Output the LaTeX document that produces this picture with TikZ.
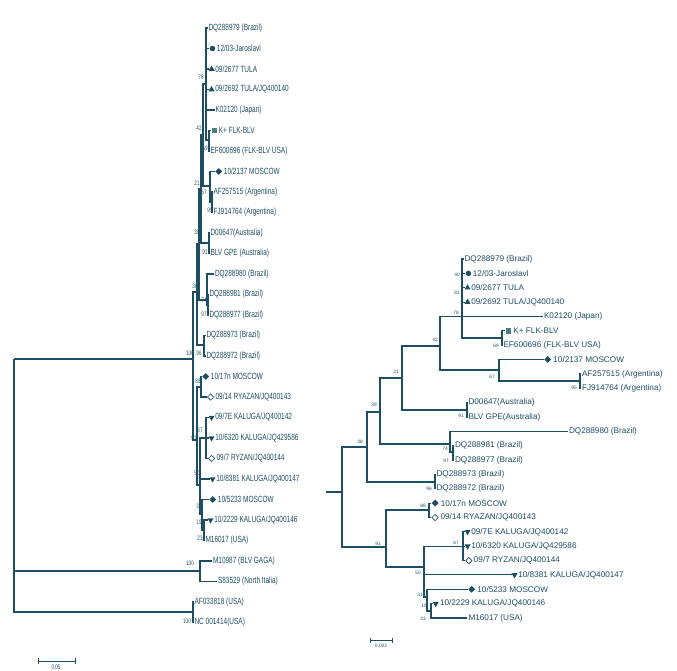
\documentclass[tikz,border=0pt]{standalone}
\usepackage{fontspec}
\setmainfont{Liberation Sans}
\usepackage{graphicx}
\usetikzlibrary{shapes.geometric,positioning}
\definecolor{tcol}{RGB}{30,78,100}
\definecolor{sqcol}{RGB}{78,124,134}
\newcommand{\lt}[1]{\scalebox{0.72}[1]{#1}}
\newcommand{\lbn}[1]{\scalebox{0.7}[1]{#1}}
\tikzset{
  br/.style={draw=tcol, line width=1.1pt},
  ltip/.style={anchor=west, inner sep=0.3pt, text=tcol, font=\fontsize{9}{9}\selectfont},
  rtip/.style={anchor=west, inner sep=0.3pt, text=tcol, font=\fontsize{8.2}{9}\selectfont},
  lbs/.style={inner sep=0pt, text=tcol, font=\fontsize{6.5}{6.5}\selectfont},
  rbs/.style={inner sep=0pt, text=tcol, font=\fontsize{4.8}{5}\selectfont},
  mcirc/.style={circle, fill=tcol, inner sep=0pt, minimum size=5.5pt},
  mtri/.style={regular polygon, regular polygon sides=3, fill=tcol, inner sep=0pt, minimum size=7pt},
  mtrid/.style={mtri, shape border rotate=180},
  mdia/.style={diamond, fill=tcol, inner sep=0pt, minimum size=7pt},
  modia/.style={diamond, draw=tcol, fill=white, line width=0.6pt, inner sep=0pt, minimum size=6.5pt},
  msq/.style={rectangle, fill=sqcol, inner sep=0pt, minimum size=5.5pt}
}
\begin{document}
\begin{tikzpicture}[x=1pt, y=-1pt]
\useasboundingbox (0,0) rectangle (677,670);

% left tree, inner nodes
\coordinate (lroot) at (14,359);
\coordinate (lM) at (193,359);
\coordinate (l38) at (197,292);
\coordinate (l39) at (199,244);
\coordinate (l21) at (201,189);
\coordinate (l42) at (203,135);
\coordinate (l78) at (206,84);
\coordinate (l69) at (209,140);
\coordinate (l67a) at (210,186);
\coordinate (l95) at (212,202);
\coordinate (l91) at (209,243);
\coordinate (l74) at (207,300);
\coordinate (l97) at (208,305);
\coordinate (l96) at (204,345);
\coordinate (l51) at (197,440);
\coordinate (l88) at (201,387);
\coordinate (l50) at (200,485);
\coordinate (l67b) at (206,438);
\coordinate (l31) at (202,514);
\coordinate (l19) at (204,530);
\coordinate (lgaga) at (200,571);
\coordinate (lout) at (193,612);

% left tree, tips
\coordinate (l288979) at (208,28);
\coordinate (ljar) at (209,48.5);
\coordinate (ltula1) at (209,69);
\coordinate (ltula2) at (209,89.5);
\coordinate (lk02) at (215,110);
\coordinate (lflk) at (211,130.5);
\coordinate (lef) at (210,151);
\coordinate (lmos1) at (215,171.5);
\coordinate (laf) at (213,192);
\coordinate (lfj) at (213,212.5);
\coordinate (ld06) at (210,233);
\coordinate (lgpe) at (210,253.5);
\coordinate (l980) at (214,274);
\coordinate (l981) at (209,294.5);
\coordinate (l977) at (209,315);
\coordinate (l973) at (206,335.5);
\coordinate (l972) at (206,356);
\coordinate (lmos2) at (202,376.5);
\coordinate (lrya1) at (207,397);
\coordinate (lkal1) at (209,417.5);
\coordinate (lkal2) at (209,438);
\coordinate (lrya2) at (208,458.5);
\coordinate (lkal3) at (210,479);
\coordinate (lmos3) at (209,499.5);
\coordinate (lkal4) at (208,520);
\coordinate (lm16) at (205,540.5);
\coordinate (lm10) at (212,561);
\coordinate (ls83) at (217,581.5);
\coordinate (laf03) at (194,602);
\coordinate (lnc) at (194,622.5);

% left tree, branches
\draw[br] (lroot) |- (lM) (lroot) |- (lgaga) (lroot) |- (lout);
\draw[br] (lM) |- (l38) (lM) |- (l51);
\draw[br] (l38) |- (l39) (l38) |- (l96);
\draw[br] (l39) |- (l21) (l39) |- (l74);
\draw[br] (l21) |- (l42) (l21) |- (l91);
\draw[br] (l42) |- (l78) (l42) |- (l67a);
\draw[br] (l78) |- (l288979) (l78) |- (ljar) (l78) |- (ltula1) (l78) |- (ltula2) (l78) |- (lk02) (l78) |- (l69);
\draw[br] (l69) |- (lflk) (l69) |- (lef);
\draw[br] (l67a) |- (lmos1) (l67a) |- (l95);
\draw[br] (l95) |- (laf) (l95) |- (lfj);
\draw[br] (l91) |- (ld06) (l91) |- (lgpe);
\draw[br] (l74) |- (l980) (l74) |- (l97);
\draw[br] (l97) |- (l981) (l97) |- (l977);
\draw[br] (l96) |- (l973) (l96) |- (l972);
\draw[br] (l51) |- (l88) (l51) |- (l50);
\draw[br] (l88) |- (lmos2) (l88) |- (lrya1);
\draw[br] (l50) |- (l67b) (l50) |- (lkal3) (l50) |- (l31);
\draw[br] (l67b) |- (lkal1) (l67b) |- (lkal2) (l67b) |- (lrya2);
\draw[br] (l31) |- (lmos3) (l31) |- (l19);
\draw[br] (l19) |- (lkal4) (l19) |- (lm16);
\draw[br] (lgaga) |- (lm10) (lgaga) |- (ls83);
\draw[br] (lout) |- (laf03) (lout) |- (lnc);

% left tree, markers and names
\node[ltip, right=0pt of l288979] (l288979x) {\lt{DQ288979 (Brazil)}};
\node[mcirc, right=0.5pt of ljar] (ljarm) {};
\node[ltip, right=1pt of ljarm] (ljarx) {\lt{12/03-Jaroslavl}};
\node[mtri, right=0.3pt of ltula1] (ltula1m) {};
\node[ltip, right=1pt of ltula1m] (ltula1x) {\lt{09/2677 TULA}};
\node[mtri, right=0.3pt of ltula2] (ltula2m) {};
\node[ltip, right=1pt of ltula2m] (ltula2x) {\lt{09/2692 TULA/JQ400140}};
\node[ltip, right=0pt of lk02] (lk02x) {\lt{K02120 (Japan)}};
\node[msq, right=0.5pt of lflk] (lflkm) {};
\node[ltip, right=1pt of lflkm] (lflkx) {\lt{K+ FLK-BLV}};
\node[ltip, right=0pt of lef] (lefx) {\lt{EF600696 (FLK-BLV USA)}};
\node[mdia, right=0pt of lmos1] (lmos1m) {};
\node[ltip, right=1pt of lmos1m] (lmos1x) {\lt{10/2137 MOSCOW}};
\node[ltip, right=0pt of laf] (lafx) {\lt{AF257515 (Argentina)}};
\node[ltip, right=0pt of lfj] (lfjx) {\lt{FJ914764 (Argentina)}};
\node[ltip, right=0pt of ld06] (ld06x) {\lt{D00647(Australia)}};
\node[ltip, right=0pt of lgpe] (lgpex) {\lt{BLV GPE (Australia)}};
\node[ltip, right=0.5pt of l980] (l980x) {\lt{DQ288980 (Brazil)}};
\node[ltip, right=0pt of l981] (l981x) {\lt{DQ288981 (Brazil)}};
\node[ltip, right=0pt of l977] (l977x) {\lt{DQ288977 (Brazil)}};
\node[ltip, right=0pt of l973] (l973x) {\lt{DQ288973 (Brazil)}};
\node[ltip, right=0pt of l972] (l972x) {\lt{DQ288972 (Brazil)}};
\node[mdia, right=0pt of lmos2] (lmos2m) {};
\node[ltip, right=1pt of lmos2m] (lmos2x) {\lt{10/17n MOSCOW}};
\node[modia, right=0pt of lrya1] (lrya1m) {};
\node[ltip, right=1pt of lrya1m] (lrya1x) {\lt{09/14 RYAZAN/JQ400143}};
\node[mtrid, right=0.3pt of lkal1] (lkal1m) {};
\node[ltip, right=1pt of lkal1m] (lkal1x) {\lt{09/7E KALUGA/JQ400142}};
\node[mtrid, right=0.3pt of lkal2] (lkal2m) {};
\node[ltip, right=1pt of lkal2m] (lkal2x) {\lt{10/6320 KALUGA/JQ429586}};
\node[modia, right=0pt of lrya2] (lrya2m) {};
\node[ltip, right=1pt of lrya2m] (lrya2x) {\lt{09/7 RYZAN/JQ400144}};
\node[mtrid, right=0.3pt of lkal3] (lkal3m) {};
\node[ltip, right=1pt of lkal3m] (lkal3x) {\lt{10/8381 KALUGA/JQ400147}};
\node[mdia, right=0pt of lmos3] (lmos3m) {};
\node[ltip, right=1pt of lmos3m] (lmos3x) {\lt{10/5233 MOSCOW}};
\node[mtrid, right=0.3pt of lkal4] (lkal4m) {};
\node[ltip, right=1pt of lkal4m] (lkal4x) {\lt{10/2229 KALUGA/JQ400146}};
\node[ltip, right=0pt of lm16] (lm16x) {\lt{M16017 (USA)}};
\node[ltip, right=0.5pt of lm10] (lm10x) {\lt{M10987 (BLV GAGA)}};
\node[ltip, right=0.5pt of ls83] (ls83x) {\lt{S83529 (North Italia)}};
\node[ltip, right=0pt of laf03] (laf03x) {\lt{AF033818 (USA)}};
\node[ltip, right=0pt of lnc] (lncx) {\lt{NC 001414(USA)}};

% left tree, bootstrap values
\node[lbs] (lb78) at (201,77) {\lbn{78}};
\node[lbs] (lb42) at (199,128) {\lbn{42}};
\node[lbs] (lb69) at (205,148) {\lbn{69}};
\node[lbs] (lb21) at (197,183) {\lbn{21}};
\node[lbs] (lb67a) at (204,192) {\lbn{67}};
\node[lbs] (lb95) at (210,210) {\lbn{95}};
\node[lbs] (lb39) at (197,232) {\lbn{39}};
\node[lbs] (lb91) at (205,252) {\lbn{91}};
\node[lbs] (lb36) at (195,286) {\lbn{36}};
\node[lbs] (lb74) at (204,300) {\lbn{74}};
\node[lbs] (lb97) at (204,314) {\lbn{97}};
\node[lbs] (lb96) at (199,353) {\lbn{96}};
\node[lbs] (lb100a) at (190,353) {\lbn{100}};
\node[lbs] (lb88) at (198,381) {\lbn{88}};
\node[lbs] (lb67b) at (200,430) {\lbn{67}};
\node[lbs] (lb51) at (194,438) {\lbn{51}};
\node[lbs] (lb50) at (197,473) {\lbn{50}};
\node[lbs] (lb31) at (199,506) {\lbn{31}};
\node[lbs] (lb19) at (199,522) {\lbn{19}};
\node[lbs] (lb23) at (200,538) {\lbn{23}};
\node[lbs] (lb100b) at (190,563) {\lbn{100}};
\node[lbs] (lb100c) at (187,621) {\lbn{100}};

% left scale bar
\coordinate (lsb1) at (38,661);
\coordinate (lsb2) at (75,661);
\draw[br, line width=1pt] (lsb1) -- (lsb2);
\draw[br, line width=0.8pt] ([yshift=3pt]lsb1) -- ([yshift=-3pt]lsb1);
\draw[br, line width=0.8pt] ([yshift=3pt]lsb2) -- ([yshift=-3pt]lsb2);
\node[lbs] (lsbx) at (56,667) {\lbn{0.05}};

% right tree, inner nodes
\coordinate (rstem) at (326,492);
\coordinate (rM) at (342,492);
\coordinate (r38) at (367,447);
\coordinate (r91) at (386,547);
\coordinate (r39) at (380,412);
\coordinate (r96) at (435,482);
\coordinate (r21) at (402,378);
\coordinate (r74) at (450,444);
\coordinate (r42) at (440,346);
\coordinate (r91b) at (467,410);
\coordinate (r78) at (462,316.4);
\coordinate (r67a) at (499,370);
\coordinate (r69) at (502,338);
\coordinate (r95) at (580,381);
\coordinate (r97) at (453,452);
\coordinate (r88) at (429,510);
\coordinate (r50) at (424,567);
\coordinate (r67b) at (463,546.2);
\coordinate (r31) at (427,597);
\coordinate (r19) at (431,611);

% right tree, tips
\coordinate (r288979) at (464,259);
\coordinate (rjar) at (465,273.4);
\coordinate (rtula1) at (465,287.7);
\coordinate (rtula2) at (465,302.1);
\coordinate (rk02) at (543,316.4);
\coordinate (rflk) at (505,330.8);
\coordinate (ref) at (503,345.2);
\coordinate (rmos1) at (544,359.5);
\coordinate (raf) at (581,373.9);
\coordinate (rfj) at (581,388.2);
\coordinate (rd06) at (468,402.6);
\coordinate (rgpe) at (468,417);
\coordinate (r980) at (568,431.3);
\coordinate (r981) at (454,445.7);
\coordinate (r977) at (454,460);
\coordinate (r973) at (436,474.4);
\coordinate (r972) at (436,488.8);
\coordinate (rmos2) at (431,503.1);
\coordinate (rrya1) at (431,517.5);
\coordinate (rkal1) at (465,531.8);
\coordinate (rkal2) at (465,546.2);
\coordinate (rrya2) at (465,560.6);
\coordinate (rkal3) at (512,574.9);
\coordinate (rmos3) at (468,589.3);
\coordinate (rkal4) at (433,603.6);
\coordinate (rm16) at (467,618);

% right tree, branches
\draw[br] (rstem) -- (rM);
\draw[br] (rM) |- (r38) (rM) |- (r91);
\draw[br] (r38) |- (r39) (r38) |- (r96);
\draw[br] (r39) |- (r21) (r39) |- (r74);
\draw[br] (r21) |- (r42) (r21) |- (r91b);
\draw[br] (r42) |- (r78) (r42) |- (r67a);
\draw[br] (r78) |- (r288979) (r78) |- (rjar) (r78) |- (rtula1) (r78) |- (rtula2) (r78) |- (rk02) (r78) |- (r69);
\draw[br] (r69) |- (rflk) (r69) |- (ref);
\draw[br] (r67a) |- (rmos1) (r67a) |- (r95);
\draw[br] (r95) |- (raf) (r95) |- (rfj);
\draw[br] (r91b) |- (rd06) (r91b) |- (rgpe);
\draw[br] (r74) |- (r980) (r74) |- (r97);
\draw[br] (r97) |- (r981) (r97) |- (r977);
\draw[br] (r96) |- (r973) (r96) |- (r972);
\draw[br] (r91) |- (r88) (r91) |- (r50);
\draw[br] (r88) |- (rmos2) (r88) |- (rrya1);
\draw[br] (r50) |- (r67b) (r50) |- (rkal3) (r50) |- (r31);
\draw[br] (r67b) |- (rkal1) (r67b) |- (rkal2) (r67b) |- (rrya2);
\draw[br] (r31) |- (rmos3) (r31) |- (r19);
\draw[br] (r19) |- (rkal4) (r19) |- (rm16);

% right tree, markers and names
\node[rtip, right=0pt of r288979] (r288979x) {DQ288979 (Brazil)};
\node[mcirc, right=0.5pt of rjar] (rjarm) {};
\node[rtip, right=1pt of rjarm] (rjarx) {12/03-Jaroslavl};
\node[mtri, right=0.3pt of rtula1] (rtula1m) {};
\node[rtip, right=1pt of rtula1m] (rtula1x) {09/2677 TULA};
\node[mtri, right=0.3pt of rtula2] (rtula2m) {};
\node[rtip, right=1pt of rtula2m] (rtula2x) {09/2692 TULA/JQ400140};
\node[rtip, right=0.5pt of rk02] (rk02x) {K02120 (Japan)};
\node[msq, right=0.5pt of rflk] (rflkm) {};
\node[rtip, right=1.5pt of rflkm] (rflkx) {K+ FLK-BLV};
\node[rtip, right=0pt of ref] (refx) {EF600696 (FLK-BLV USA)};
\node[mdia, right=0pt of rmos1] (rmos1m) {};
\node[rtip, right=1.5pt of rmos1m] (rmos1x) {10/2137 MOSCOW};
\node[rtip, right=0.5pt of raf] (rafx) {AF257515 (Argentina)};
\node[rtip, right=0.5pt of rfj] (rfjx) {FJ914764 (Argentina)};
\node[rtip, right=0pt of rd06] (rd06x) {D00647(Australia)};
\node[rtip, right=0pt of rgpe] (rgpex) {BLV GPE(Australia)};
\node[rtip, right=0.5pt of r980] (r980x) {DQ288980 (Brazil)};
\node[rtip, right=0.5pt of r981] (r981x) {DQ288981 (Brazil)};
\node[rtip, right=0.5pt of r977] (r977x) {DQ288977 (Brazil)};
\node[rtip, right=0pt of r973] (r973x) {DQ288973 (Brazil)};
\node[rtip, right=0pt of r972] (r972x) {DQ288972 (Brazil)};
\node[mdia, right=0.5pt of rmos2] (rmos2m) {};
\node[rtip, right=1.5pt of rmos2m] (rmos2x) {10/17n MOSCOW};
\node[modia, right=0.5pt of rrya1] (rrya1m) {};
\node[rtip, right=1.5pt of rrya1m] (rrya1x) {09/14 RYAZAN/JQ400143};
\node[mtrid, right=0.3pt of rkal1] (rkal1m) {};
\node[rtip, right=1pt of rkal1m] (rkal1x) {09/7E KALUGA/JQ400142};
\node[mtrid, right=0.3pt of rkal2] (rkal2m) {};
\node[rtip, right=1pt of rkal2m] (rkal2x) {10/6320 KALUGA/JQ429586};
\node[modia, right=0.3pt of rrya2] (rrya2m) {};
\node[rtip, right=1pt of rrya2m] (rrya2x) {09/7 RYZAN/JQ400144};
\node[mtrid, right=0.3pt of rkal3] (rkal3m) {};
\node[rtip, right=1pt of rkal3m] (rkal3x) {10/8381 KALUGA/JQ400147};
\node[mdia, right=0pt of rmos3] (rmos3m) {};
\node[rtip, right=1.5pt of rmos3m] (rmos3x) {10/5233 MOSCOW};
\node[mtrid, right=0.5pt of rkal4] (rkal4m) {};
\node[rtip, right=1.5pt of rkal4m] (rkal4x) {10/2229 KALUGA/JQ400146};
\node[rtip, right=1pt of rm16] (rm16x) {M16017 (USA)};

% right tree, bootstrap values
\node[rbs] (rb40) at (457,275) {40};
\node[rbs] (rb81) at (457,293) {81};
\node[rbs] (rb78) at (456,313) {78};
\node[rbs] (rb69) at (496,346) {69};
\node[rbs] (rb42) at (435,340) {42};
\node[rbs] (rb21) at (396,372) {21};
\node[rbs] (rb67a) at (492,377) {67};
\node[rbs] (rb95) at (574,388) {95};
\node[rbs] (rb39) at (374,405) {39};
\node[rbs] (rb91b) at (461,416) {91};
\node[rbs] (rb74) at (445,449) {74};
\node[rbs] (rb97) at (446,461) {97};
\node[rbs] (rb38) at (360,442) {38};
\node[rbs] (rb96) at (429,489) {96};
\node[rbs] (rb88) at (423,506) {88};
\node[rbs] (rb91) at (378,544) {91};
\node[rbs] (rb67b) at (456,543) {67};
\node[rbs] (rb50) at (418,573) {50};
\node[rbs] (rb31) at (420,595) {31};
\node[rbs] (rb19) at (424,606) {19};
\node[rbs] (rb23) at (423,619) {23};

% right scale bar
\coordinate (rsb1) at (370,640);
\coordinate (rsb2) at (392,640);
\draw[br, line width=0.8pt] (rsb1) -- (rsb2);
\draw[br, line width=0.6pt] ([yshift=2.5pt]rsb1) -- ([yshift=-2.5pt]rsb1);
\draw[br, line width=0.6pt] ([yshift=2.5pt]rsb2) -- ([yshift=-2.5pt]rsb2);
\node[rbs] (rsbx) at (381,646) {0.002};
\end{tikzpicture}
\end{document}
